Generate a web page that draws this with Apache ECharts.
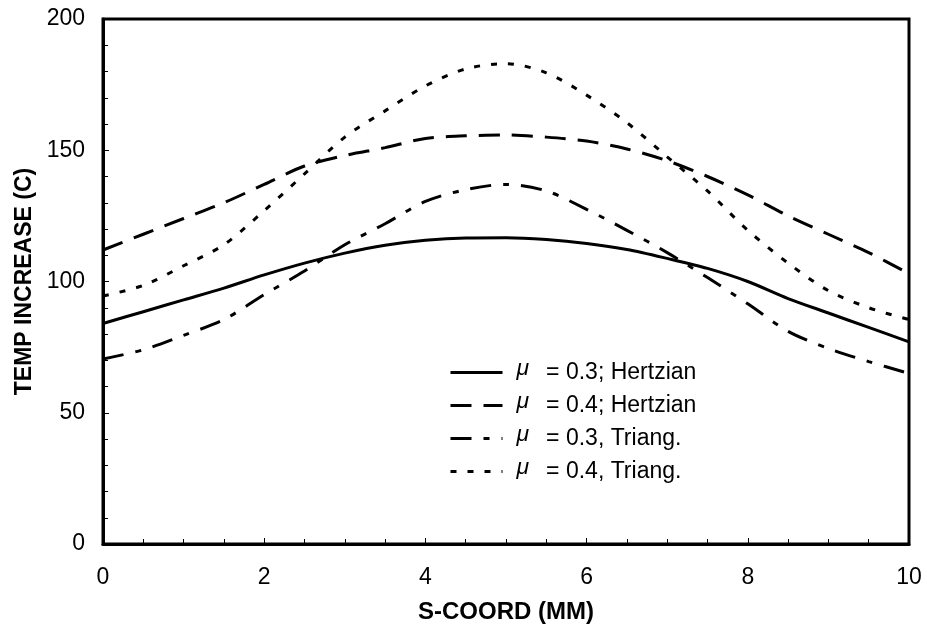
<!DOCTYPE html>
<html>
<head>
<meta charset="utf-8">
<script src="https://cdn.jsdelivr.net/npm/echarts@6/dist/echarts.min.js"></script>
<style>
html,body{margin:0;padding:0;background:#fff;}
#chart{width:927px;height:629px;}
</style>
</head>
<body>
<div id="chart"></div>
<script>
const xs = [0,0.5,1,1.5,2,2.5,3,3.5,4,4.5,5,5.5,6,6.5,7,7.5,8,8.5,9,9.5,10];
const hertz03 = [84,88.5,93,97.5,102.5,107,110.8,113.8,115.7,116.6,116.7,116,114.5,112.2,108.8,105,100,93.5,88,82.5,77];
const hertz04 = [112,118,124,130,137,144,148,151,154.5,155.5,155.8,155,153.5,150.5,146,140,133,125,118,111,103];
const triang03 = [70.5,74,79.5,85.5,95,104,114,122,130.5,135,137,134.5,127.5,119.5,111,101.5,91.5,81,74.5,69.5,65];
const triang04 = [94.5,98.5,106,114,127,141,155,165,174.5,181,183,179.5,171,160.5,147.5,134.5,119.5,107,96.5,90,85.5];
const seriesNames = ['\u03bc = 0.3; Hertzian','\u03bc = 0.4; Hertzian','\u03bc = 0.3, Triang.','\u03bc = 0.4, Triang.'];
const xTicks = [0,2,4,6,8,10];
const yTicks = [0,50,100,150,200];

const font = '"Liberation Sans", Arial, sans-serif';
const dashTypes = ['solid', [21,12], [21,12,6,12], [6,11]];
function pairs(ys){ return xs.map((x,i)=>[x,ys[i]]); }
function mk(name, ys, type){
  return {
    name: name, type: 'line', data: pairs(ys), smooth: 0.3,
    showSymbol: false, symbol: 'none',
    lineStyle: {color:'#000', width: 3, type: type},
    itemStyle: {color:'#000'}
  };
}
const chart = echarts.init(document.getElementById('chart'), null, {renderer:'canvas'});
chart.setOption({
  animation: false,
  backgroundColor: '#fff',
  grid: {left: 103, right: 18, top: 19, bottom: 84, show: true, borderColor: '#000', borderWidth: 3},
  xAxis: {
    type: 'value', min: 0, max: 10, interval: 2,
    name: 'S-COORD (MM)', nameLocation: 'middle', nameGap: 56,
    nameTextStyle: {fontFamily: font, fontSize: 24, fontWeight: 'bold', color: '#000'},
    axisLine: {show: true, lineStyle: {color:'#000', width: 3}},
    axisTick: {show: true, inside: true, length: 6, lineStyle: {color:'#000', width: 1}},
    minorTick: {show: true, splitNumber: 4, length: 5, lineStyle: {color:'#000', width: 1}},
    splitLine: {show: false},
    axisLabel: {fontFamily: font, fontSize: 23, color: '#000', margin: 22,
      formatter: v => xTicks.includes(v) ? String(v) : ''}
  },
  yAxis: {
    type: 'value', min: 0, max: 200, interval: 50,
    name: 'TEMP INCREASE (C)', nameLocation: 'middle', nameGap: 67, nameRotate: 90,
    nameTextStyle: {fontFamily: font, fontSize: 23, fontWeight: 'bold', color: '#000'},
    axisLine: {show: true, lineStyle: {color:'#000', width: 3}},
    axisTick: {show: true, inside: true, length: 6, lineStyle: {color:'#000', width: 1}},
    minorTick: {show: true, splitNumber: 5, length: 5, lineStyle: {color:'#000', width: 1}},
    splitLine: {show: false},
    axisLabel: {fontFamily: font, fontSize: 23, color: '#000', margin: 18,
      formatter: v => yTicks.includes(v) ? String(v) : ''}
  },
  legend: {
    orient: 'vertical', left: 449, top: 357, padding: 0,
    itemWidth: 52, itemHeight: 14, itemGap: 2,
    itemStyle: {color: 'rgba(0,0,0,0)', borderWidth: 0, opacity: 0},
    data: seriesNames.map((n,i) => ({name: n, lineStyle: {color:'#000', width: 3, type: dashTypes[i]}})),
    textStyle: {fontFamily: font, fontSize: 23, color: '#000',
      rich: {
        mu: {fontFamily: font, fontSize: 23, fontStyle: 'italic', color: '#000', padding: [0, 17, 8, 9], lineHeight: 25},
        t: {fontFamily: font, fontSize: 23, color: '#000', lineHeight: 25}
      }
    },
    formatter: n => '{mu|\u03bc}{t|' + n.slice(2) + '}'
  },
  series: [
    mk(seriesNames[0], hertz03, dashTypes[0]),
    mk(seriesNames[1], hertz04, dashTypes[1]),
    mk(seriesNames[2], triang03, dashTypes[2]),
    mk(seriesNames[3], triang04, dashTypes[3])
  ]
});
</script>
</body>
</html>
